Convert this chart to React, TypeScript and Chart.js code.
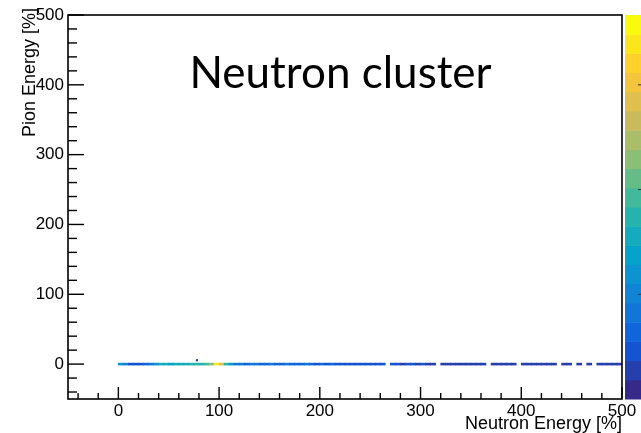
import React, { useEffect, useRef } from 'react';
import { Chart, registerables } from 'chart.js';

Chart.register(...registerables);

// ---- text ----
const chartTitle = 'Neutron cluster';
const xAxisTitle = 'Neutron Energy [%]';
const yAxisTitle = 'Pion Energy [%]';

// ---- axes ----
const xRange = [-50, 500];
const yRange = [-50, 500];
const xTickValues = [0, 100, 200, 300, 400, 500];
const yTickValues = [0, 100, 200, 300, 400, 500];
const minorTickStep = 20;

// ---- histogram row at pion energy ~0 (bins of 5 %, from 0 to 500) ----
const binStart = 0;
const binWidth = 5;
const rowYEdges = [-1.4, 1.4];
// relative bin content (0 = empty), 0..1 of the colour scale
const binValues = [
  0.30, 0.28, 0.14, 0.12, 0.12, 0.16, 0.22, 0.34, 0.40, 0.42,
  0.38, 0.40, 0.42, 0.44, 0.45, 0.46, 0.48, 0.52, 0.62, 0.92,
  0.78, 0.46, 0.30, 0.22, 0.20, 0.18, 0.22, 0.20, 0.16, 0.18,
  0.22, 0.18, 0.16, 0.20, 0.18, 0.15, 0.17, 0.20, 0.16, 0.14,
  0.16, 0.13, 0.15, 0.12, 0.14, 0.12, 0.13, 0.11, 0.12, 0.12,
  0.11, 0.12, 0.10, 0.00, 0.10, 0.11, 0.09, 0.10, 0.10, 0.09,
  0.10, 0.09, 0.08, 0.00, 0.08, 0.09, 0.08, 0.08, 0.09, 0.08,
  0.08, 0.07, 0.08, 0.00, 0.08, 0.07, 0.08, 0.08, 0.07, 0.00,
  0.07, 0.07, 0.07, 0.06, 0.07, 0.07, 0.06, 0.00, 0.07, 0.07,
  0.00, 0.06, 0.00, 0.06, 0.00, 0.07, 0.07, 0.07, 0.06, 0.07,
];
// single isolated entry
const strayX = [78];
const strayY = [5.5];
const strayValues = [0.05];

// ---- colour palette (ROOT kBird), 20 contour levels ----
const paletteLevels = 20;
const birdStops = [0.0, 0.125, 0.25, 0.375, 0.5, 0.625, 0.75, 0.875, 1.0];
const birdRed = [0.2082, 0.0592, 0.078, 0.0232, 0.1802, 0.5301, 0.8186, 0.9956, 0.9764];
const birdGreen = [0.1664, 0.3599, 0.5041, 0.6419, 0.7178, 0.7492, 0.7328, 0.7862, 0.9832];
const birdBlue = [0.5293, 0.8684, 0.8385, 0.7914, 0.6425, 0.4662, 0.3499, 0.1968, 0.0539];
const paletteTickFractions = [0.2727, 0.5454, 0.8181];

function bird(t: number): string {
  const tt = Math.max(0, Math.min(1, t));
  let i = 0;
  while (i < birdStops.length - 2 && tt > birdStops[i + 1]) i++;
  const f = (tt - birdStops[i]) / (birdStops[i + 1] - birdStops[i]);
  const c = (a: number[]) => Math.round(255 * (a[i] + f * (a[i + 1] - a[i])));
  return `rgb(${c(birdRed)},${c(birdGreen)},${c(birdBlue)})`;
}

function levelColor(v: number): string {
  const level = Math.max(0, Math.min(paletteLevels - 1, Math.floor(v * paletteLevels)));
  return bird(level / (paletteLevels - 1));
}

const axisFont = '"Liberation Sans", Arial, Helvetica, sans-serif';

const rootStyle = {
  id: 'rootStyle',
  beforeDraw(chart: any) {
    const { ctx, width, height } = chart;
    ctx.save();
    ctx.fillStyle = '#ffffff';
    ctx.fillRect(0, 0, width, height);
    ctx.restore();
  },
  afterDraw(chart: any) {
    const { ctx, chartArea: a, scales, width } = chart;
    const xs = scales.x;
    const ys = scales.y;
    ctx.save();

    // palette
    const pLeft = a.right + 3;
    const bandH = (a.bottom - a.top) / paletteLevels;
    for (let i = 0; i < paletteLevels; i++) {
      ctx.fillStyle = bird(i / (paletteLevels - 1));
      const y0 = a.bottom - (i + 1) * bandH;
      ctx.fillRect(pLeft, y0, width - pLeft, bandH + 0.5);
    }
    ctx.strokeStyle = '#333';
    ctx.lineWidth = 1;
    for (const f of paletteTickFractions) {
      const py = a.bottom - f * (a.bottom - a.top);
      ctx.beginPath();
      ctx.moveTo(width - 3, py);
      ctx.lineTo(width, py);
      ctx.stroke();
    }

    // frame
    ctx.strokeStyle = '#000';
    ctx.lineWidth = 1.6;
    ctx.strokeRect(a.left, a.top, a.right - a.left, a.bottom - a.top);

    // tick marks (inside the frame, ROOT style)
    ctx.lineWidth = 1.4;
    for (let v = xRange[0] + 10; v <= xRange[1]; v += minorTickStep) {
      const px = xs.getPixelForValue(v);
      const major = v % 100 === 0;
      ctx.beginPath();
      ctx.moveTo(px, a.bottom);
      ctx.lineTo(px, a.bottom - (major ? 12 : 6));
      ctx.stroke();
    }
    for (let v = yRange[0] + 10; v <= yRange[1]; v += minorTickStep) {
      const py = ys.getPixelForValue(v);
      const major = v % 100 === 0;
      ctx.beginPath();
      ctx.moveTo(a.left, py);
      ctx.lineTo(a.left + (major ? 16 : 9), py);
      ctx.stroke();
    }

    // axis titles
    ctx.fillStyle = '#000';
    ctx.font = `18px ${axisFont}`;
    ctx.textAlign = 'right';
    ctx.textBaseline = 'alphabetic';
    ctx.fillText(xAxisTitle, a.right, 429);
    ctx.save();
    ctx.translate(35, 8);
    ctx.rotate(-Math.PI / 2);
    ctx.fillText(yAxisTitle, 0, 0);
    ctx.restore();

    // big title
    ctx.font = '44px Lato, "Open Sans", sans-serif';
    ctx.textAlign = 'center';
    ctx.fillText(chartTitle, 340.5, 88);

    ctx.restore();
  },
};

export default function App() {
  const ref = useRef<HTMLCanvasElement | null>(null);

  useEffect(() => {
    if (!ref.current) return;
    const barData: any[] = [];
    const barColors: string[] = [];
    binValues.forEach((v, i) => {
      if (v > 0) {
        barData.push({ x: binStart + (i + 0.5) * binWidth, y: rowYEdges });
        barColors.push(levelColor(v));
      }
    });
    const strayData = strayX.map((x, i) => ({ x, y: strayY[i] }));
    const strayColors = strayValues.map((v) => levelColor(v));

    const chart = new Chart(ref.current, {
      type: 'bar',
      data: {
        datasets: [
          {
            type: 'bar',
            data: barData,
            backgroundColor: barColors,
            borderWidth: 0,
            barPercentage: 1,
            categoryPercentage: 1,
            grouped: false,
          } as any,
          {
            type: 'scatter',
            data: strayData,
            backgroundColor: strayColors,
            borderWidth: 0,
            pointStyle: 'rect',
            pointRadius: 1.5,
          } as any,
        ],
      },
      options: {
        animation: false,
        responsive: false,
        devicePixelRatio: 1,
        layout: { padding: { left: 0, top: 15, right: 19, bottom: 0 } },
        plugins: { legend: { display: false }, tooltip: { enabled: false } },
        scales: {
          x: {
            type: 'linear',
            min: xRange[0],
            max: xRange[1],
            offset: false,
            grid: { display: false, drawTicks: false },
            border: { display: false },
            ticks: {
              color: '#000',
              font: { family: axisFont, size: 17 },
              padding: 2,
              maxRotation: 0,
              autoSkip: false,
            },
            afterBuildTicks: (s: any) => {
              s.ticks = xTickValues.map((v) => ({ value: v }));
            },
            afterFit: (s: any) => {
              s.height = 34;
            },
          },
          y: {
            type: 'linear',
            min: yRange[0],
            max: yRange[1],
            grid: { display: false, drawTicks: false },
            border: { display: false },
            ticks: {
              color: '#000',
              font: { family: axisFont, size: 17 },
              padding: 4,
              autoSkip: false,
            },
            afterBuildTicks: (s: any) => {
              s.ticks = yTickValues.map((v) => ({ value: v }));
            },
            afterFit: (s: any) => {
              s.width = 68;
            },
          },
        },
      } as any,
      plugins: [rootStyle],
    });
    return () => chart.destroy();
  }, []);

  return (
    <div style={{ position: 'fixed', left: 0, top: 0, width: 641, height: 433, background: '#fff' }}>
      <canvas ref={ref} width={641} height={433} style={{ display: 'block' }} />
    </div>
  );
}
